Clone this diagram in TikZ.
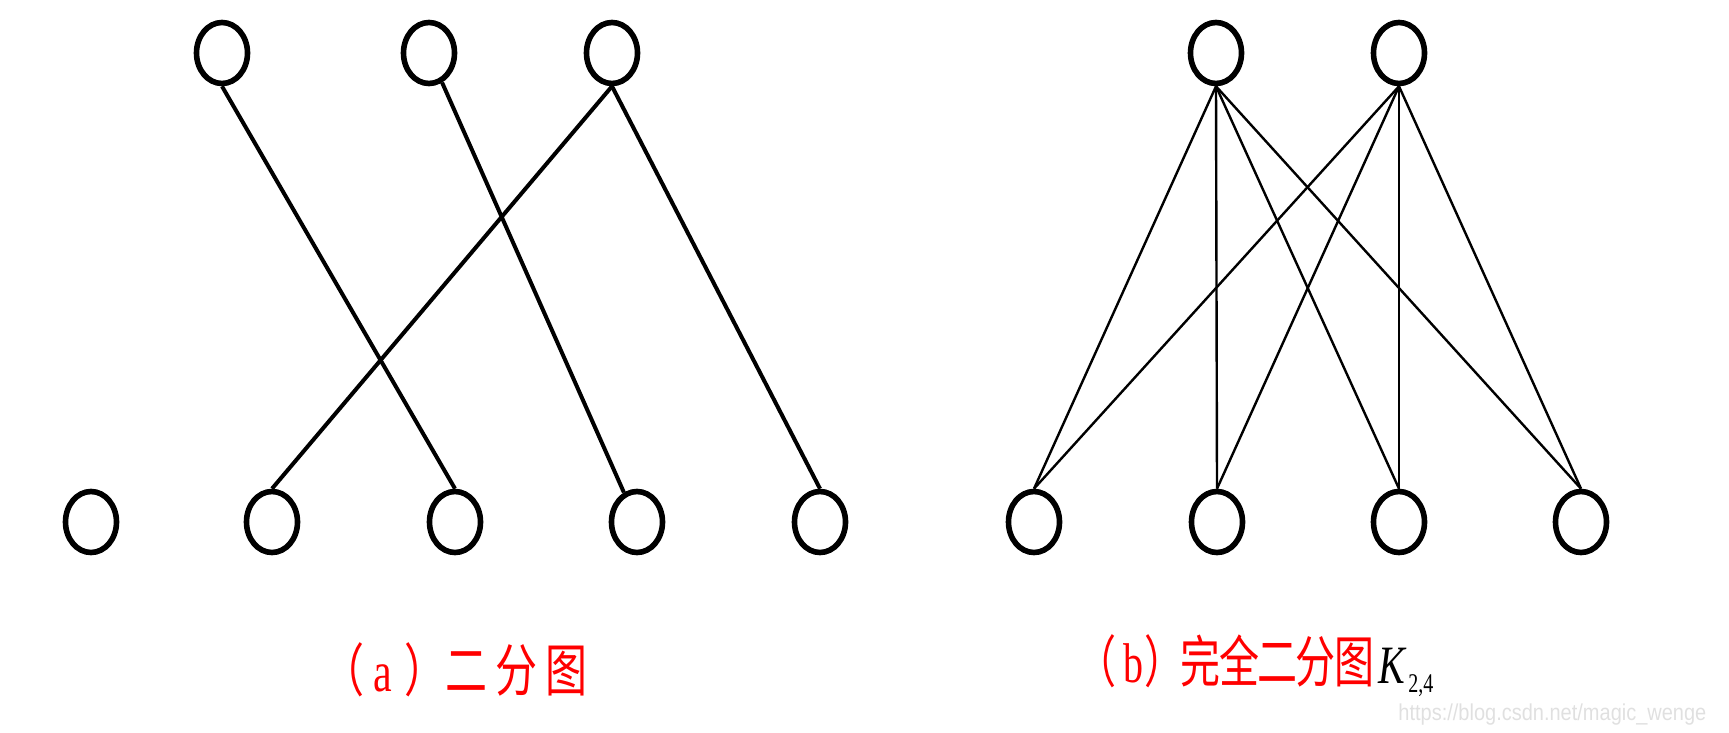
\documentclass[tikz,border=0pt]{standalone}
\usepackage{fontspec}
\usepackage{graphicx}
\setmainfont{Liberation Serif}
\newfontfamily\cjk{Noto Sans CJK SC}
\newfontfamily\wmfont{Liberation Sans}
\usetikzlibrary{shapes.geometric}
\tikzset{
  vtx/.style={ellipse, draw, line width=2.8pt, minimum width=25.5pt, minimum height=30.5pt, inner sep=0pt},
  edgea/.style={line width=2pt},
  edgeb/.style={line width=1.2pt},
  captext/.style={text=red, inner sep=0pt, anchor=base west},
}
\begin{document}
\begin{tikzpicture}[x=0.5pt, y=-0.5pt]
\useasboundingbox (0,0) rectangle (1729,733);
% (a)
\node[vtx] (ta1) at (222,53) {};
\node[vtx] (ta2) at (429,53) {};
\node[vtx] (ta3) at (612,53) {};
\node[vtx] (ba1) at (91,522) {};
\node[vtx] (ba2) at (272,522) {};
\node[vtx] (ba3) at (455,522) {};
\node[vtx] (ba4) at (637,522) {};
\node[vtx] (ba5) at (820,522) {};
\draw[edgea] (ta1.south) -- (ba3.north);
\draw[edgea] (ta2) -- (ba4);
\draw[edgea] (ta3.south) -- (ba2.north);
\draw[edgea] (ta3.south) -- (ba5.north);
% (b)
\node[vtx] (tb1) at (1216,53) {};
\node[vtx] (tb2) at (1399,53) {};
\node[vtx] (bb1) at (1034,522) {};
\node[vtx] (bb2) at (1217,522) {};
\node[vtx] (bb3) at (1399,522) {};
\node[vtx] (bb4) at (1581,522) {};
\foreach \t in {tb1,tb2}{
  \foreach \b in {bb1,bb2,bb3,bb4}{
    \draw[edgeb] (\t.south) -- (\b.north);
  }
}
% captions
\node[captext, font=\fontsize{21}{25}\selectfont] (capa) at (322,691)
  {\scalebox{1}[1.36]{{\cjk （}\hspace{4.5pt}a\hspace{6pt}{\cjk ）}\hspace{-0.5pt}{\cjk 二\hspace{4pt}分\hspace{4pt}图}}};
\node[captext, font=\fontsize{20}{24}\selectfont] (capb) at (1076,682)
  {\scalebox{1}[1.4]{{\cjk （}\hspace{3.75pt}b\hspace{0.5pt}{\cjk ）}\hspace{-2.1pt}{\cjk 完\hspace{-0.8pt}全\hspace{-0.8pt}二\hspace{-0.8pt}分\hspace{-0.8pt}图}}};
\node[inner sep=0pt, anchor=base west, font=\fontsize{20}{24}\selectfont] (klab) at (1378,683)
  {\scalebox{1}[1.35]{\textit{K}}};
\node[inner sep=0pt, anchor=base west, font=\fontsize{10}{12}\selectfont] (ksub) at (1408,692)
  {\scalebox{1}[1.35]{2,4}};
\node[inner sep=0pt, anchor=west, text=black!12, font=\wmfont\fontsize{10}{12}\selectfont] (wm) at (1398,715)
  {\scalebox{1}[1.15]{https://blog.csdn.net/magic\_wenge}};
\end{tikzpicture}
\end{document}
